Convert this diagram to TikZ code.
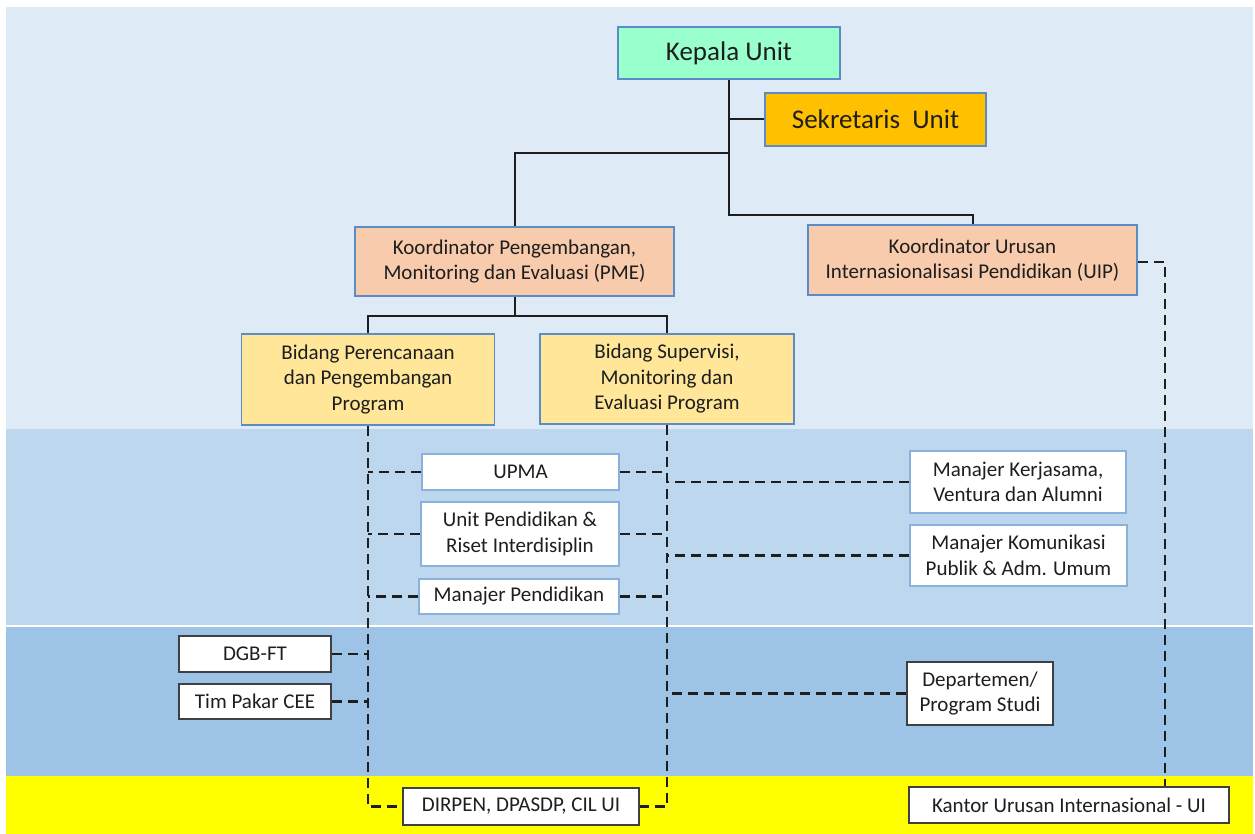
\documentclass[tikz,border=0pt]{standalone}
\usepackage{fontspec}
\setmainfont{Carlito}
\usetikzlibrary{positioning}

\definecolor{bandtop}{HTML}{DEEAF6}
\definecolor{bandmid}{HTML}{BDD7EE}
\definecolor{bandlow}{HTML}{9DC3E6}
\definecolor{bandyel}{HTML}{FFFF00}
\definecolor{kepalafill}{HTML}{99FFCC}
\definecolor{sekfill}{HTML}{FFC000}
\definecolor{koorfill}{HTML}{F8CBAD}
\definecolor{bidfill}{HTML}{FFE699}
\definecolor{boxline}{HTML}{5B8CC6}
\definecolor{paleline}{HTML}{8AB0DD}
\definecolor{inkcol}{HTML}{1E1E1E}

\newcommand{\bigtext}{\fontsize{27}{32}\selectfont}
\newcommand{\boxtext}{\fontsize{21}{25.5}\selectfont}

\tikzset{
  unit/.style={draw=boxline, line width=1.6pt, align=center, inner sep=0pt,
    text=inkcol, font=\boxtext},
  toplevel/.style={unit, font=\bigtext},
  subbox/.style={unit, fill=white, draw=paleline},
  outbox/.style={unit, fill=white, draw=inkcol!85},
  orgline/.style={draw=inkcol, line width=2pt},
  dashline/.style={draw=inkcol, line width=2.4pt, dash pattern=on 10pt off 6pt},
}

\begin{document}
\begin{tikzpicture}[x=1pt, y=-1pt]

    % page and the four bands
    \fill[white] (0, 0) rectangle (1255, 834);
    \useasboundingbox (0, 0) rectangle (1255, 834);
    \fill[bandtop] (6, 7) rectangle (1253, 429);
    \fill[bandmid] (6, 429) rectangle (1253, 625);
    \fill[bandlow] (6, 626.5) rectangle (1253, 776);
    \fill[bandyel] (6, 776) rectangle (1253, 834);

    % pimpinan
    \node[toplevel, fill=kepalafill, minimum width=222, minimum height=52] (kepala) at (729, 53) {Kepala Unit};
    \node[toplevel, fill=sekfill, minimum width=221, minimum height=53] (sek) at (875.5, 119.5) {Sekretaris~ Unit};

    \node[unit, fill=koorfill, minimum width=319, minimum height=69] (pme) at (514.5, 261.5)
        {Koordinator Pengembangan,\\Monitoring dan Evaluasi (PME)};
    \node[unit, fill=koorfill, minimum width=329, minimum height=70] (uip) at (972.5, 260)
        {Koordinator Urusan\\Internasionalisasi Pendidikan (UIP)};

    \node[unit, fill=bidfill, minimum width=253, minimum height=91] (per) at (368, 379.5)
        {Bidang Perencanaan\\dan Pengembangan\\Program};
    \node[unit, fill=bidfill, minimum width=254, minimum height=90] (sup) at (667, 379)
        {Bidang Supervisi,\\Monitoring dan\\Evaluasi Program};

    % unit di bawah bidang
    \node[subbox, minimum width=197, minimum height=36] (upma) at (520.5, 472) {UPMA};
    \node[subbox, minimum width=198, minimum height=64] (upri) at (520, 534) {Unit Pendidikan \&\\Riset Interdisiplin};
    \node[subbox, minimum width=200, minimum height=35] (manpend) at (519, 596.5) {Manajer Pendidikan};
    \node[subbox, minimum width=216, minimum height=62] (kerja) at (1018, 482) {Manajer Kerjasama,\\Ventura dan Alumni};
    \node[subbox, minimum width=217, minimum height=61] (komun) at (1018.5, 555.5) {Manajer Komunikasi\\Publik \& Adm. Umum};

    \node[outbox, minimum width=152, minimum height=36] (dgb) at (255, 654) {DGB-FT};
    \node[outbox, minimum width=152, minimum height=35] (pakar) at (255, 701.5) {Tim Pakar CEE};
    \node[outbox, minimum width=146, minimum height=63] (dept) at (980, 693.5) {Departemen/\\Program Studi};
    \node[outbox, minimum width=236, minimum height=37] (dirpen) at (521, 806.5) {DIRPEN, DPASDP, CIL UI};
    \node[outbox, minimum width=320, minimum height=36] (kui) at (1069, 805) {Kantor Urusan Internasional - UI};

    % garis komando
    \coordinate (jA) at (729, 153);
    \coordinate (jB) at (729, 215);
    \draw[orgline] (kepala.south) -- (jB) -| (uip.north);
    \draw[orgline] (kepala.south |- sek.west) -- (sek.west);
    \draw[orgline] (jA) -| (pme.north);
    \draw[orgline] (pme.south) -- ++(0, 19) coordinate (jC);
    \draw[orgline] (jC) -| (per.north);
    \draw[orgline] (jC) -| (sup.north);

    % garis koordinasi
    \draw[dashline] (per.south) |- (dirpen.west);
    \draw[dashline] (sup.south) |- (dirpen.east);
    \foreach \n in {upma, upri, manpend} {
        \draw[dashline] (\n.west) -- (\n.west -| per.south);
        \draw[dashline] (\n.east) -- (\n.east -| sup.south);
    }
    \foreach \n in {dgb, pakar}
        \draw[dashline] (\n.east) -- (\n.east -| per.south);
    \foreach \n in {kerja, komun, dept}
        \draw[dashline] (\n.west) -- (\n.west -| sup.south);
    \coordinate (uipc) at (1165, 262);
    \draw[dashline] (uip.east |- uipc) -- (uipc) -- (uipc |- kui.north);

\end{tikzpicture}
\end{document}
